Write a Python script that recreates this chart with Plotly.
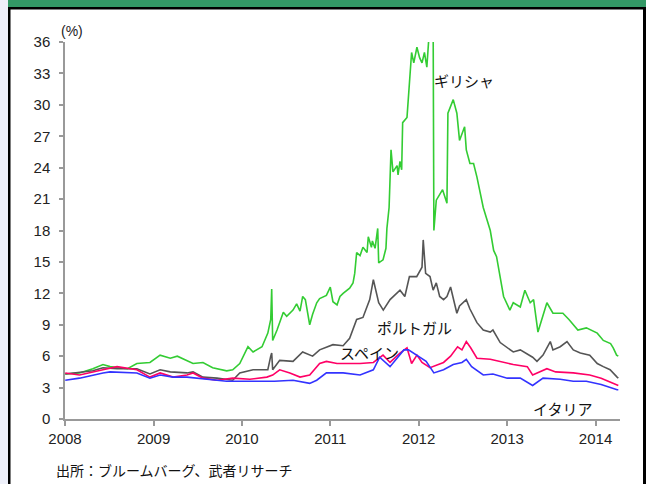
import plotly.graph_objects as go

# ---------------- data ----------------
greece_dates = ["2008-01-02","2008-03-01","2008-04-25","2008-06-06","2008-07-05","2008-08-03","2008-09-15",
 "2008-10-24","2008-12-17","2009-01-28","2009-03-11","2009-04-09","2009-05-19","2009-06-13","2009-07-24",
 "2009-08-10","2009-09-02","2009-10-30","2009-11-24","2009-12-23","2010-01-26","2010-02-16","2010-03-25",
 "2010-04-18","2010-04-30","2010-05-04","2010-05-08","2010-05-26","2010-06-21","2010-07-05","2010-07-31",
 "2010-08-15","2010-08-29","2010-09-09","2010-09-20","2010-10-08","2010-10-20","2010-11-06","2010-11-18",
 "2010-12-16","2011-01-01","2011-01-12","2011-01-29","2011-02-10","2011-02-23","2011-03-22","2011-04-05",
 "2011-04-12","2011-04-20","2011-05-04","2011-05-16","2011-06-02","2011-06-07","2011-06-20","2011-06-24",
 "2011-07-05","2011-07-16","2011-07-20","2011-08-07","2011-08-19","2011-08-23","2011-09-01","2011-09-09",
 "2011-09-17","2011-10-04","2011-10-08","2011-10-16","2011-10-23","2011-10-27","2011-11-14","2011-12-03",
 "2011-12-12","2011-12-25","2012-01-05","2012-01-15","2012-01-25","2012-02-04","2012-02-14","2012-03-01",
 "2012-03-04","2012-03-14","2012-04-09","2012-04-27","2012-05-01","2012-05-23","2012-06-07","2012-06-18",
 "2012-07-09","2012-07-16","2012-07-31","2012-08-15","2012-08-29","2012-09-24","2012-10-23","2012-11-06",
 "2012-11-18","2012-12-03","2012-12-17","2013-01-12","2013-01-26","2013-02-24","2013-03-15","2013-04-06",
 "2013-04-20","2013-05-08","2013-06-14","2013-07-09","2013-08-19","2013-09-13","2013-10-20","2013-11-24",
 "2014-01-08","2014-02-02","2014-03-04","2014-03-15","2014-03-29","2014-04-05"]
greece_vals = [4.3,4.4,4.8,5.2,5.0,4.9,4.8,5.3,5.4,6.1,5.8,6.0,5.6,5.3,5.4,5.2,4.9,4.6,4.7,5.3,6.9,6.4,6.9,
 8.2,9.5,12.4,7.5,8.5,10.2,9.8,10.4,11.0,10.3,11.7,11.4,9.0,10.0,11.1,11.5,11.8,12.6,11.2,10.9,11.7,12.0,
 12.5,13.0,13.9,15.9,15.6,16.4,15.9,17.4,16.4,17.0,16.3,18.2,14.9,15.2,16.3,18.2,20.2,25.7,23.6,24.2,23.3,
 24.6,23.8,28.3,28.8,35.0,34.0,35.5,34.5,34.0,35.0,33.6,37.0,38.0,18.0,20.9,21.9,20.6,29.2,30.5,29.2,26.6,
 27.9,25.7,24.4,24.4,23.1,20.2,18.0,16.1,15.5,13.6,11.7,10.4,11.1,10.7,12.3,11.1,11.4,8.3,11.1,10.1,10.1,
 9.5,8.5,8.7,8.2,7.5,7.2,6.8,6.1,6.0]

portugal_dates = ["2008-01-02","2008-04-25","2008-06-06","2008-08-03","2008-10-24","2008-12-17","2009-01-28",
 "2009-03-11","2009-05-19","2009-06-13","2009-07-24","2009-09-20","2009-11-24","2009-12-23","2010-02-16",
 "2010-03-17","2010-04-18","2010-04-30","2010-05-04","2010-05-08","2010-06-06","2010-07-31","2010-09-09",
 "2010-10-20","2010-11-18","2011-01-12","2011-02-23","2011-03-22","2011-04-20","2011-05-16","2011-06-13",
 "2011-06-28","2011-07-20","2011-08-08","2011-09-05","2011-10-16","2011-11-05","2011-11-24","2011-12-24",
 "2012-01-15","2012-01-20","2012-01-30","2012-02-17","2012-03-01","2012-03-14","2012-03-28","2012-04-13",
 "2012-04-27","2012-05-12","2012-06-07","2012-06-18","2012-07-16","2012-07-31","2012-08-29","2012-09-24",
 "2012-10-23","2012-11-03","2012-12-03","2013-01-01","2013-01-26","2013-02-24","2013-03-25","2013-04-16",
 "2013-05-04","2013-05-29","2013-06-28","2013-07-09","2013-08-08","2013-09-05","2013-10-01","2013-10-30",
 "2013-12-08","2014-01-08","2014-02-02","2014-03-02","2014-03-31","2014-04-05"]
portugal_vals = [4.3,4.6,4.9,4.8,4.8,4.3,4.7,4.5,4.4,4.5,4.0,3.9,3.7,4.4,4.7,4.7,4.7,6.0,6.3,4.7,5.6,5.5,
 6.4,6.0,6.6,7.1,7.0,7.7,9.5,9.7,11.4,13.3,11.1,10.4,11.4,12.3,11.7,13.6,13.6,14.5,17.1,13.9,13.6,12.3,
 13.0,11.7,11.4,11.7,12.6,10.1,10.8,11.4,10.5,9.2,8.5,8.3,8.5,7.3,6.8,6.4,6.6,6.2,5.9,5.5,6.1,7.4,6.6,
 6.9,7.4,6.6,6.3,6.1,5.3,5.0,4.7,4.0,3.9]

spain_dates = ["2008-01-02","2008-03-01","2008-06-06","2008-08-03","2008-10-24","2008-12-17","2009-01-28",
 "2009-03-23","2009-05-19","2009-06-13","2009-07-24","2009-09-20","2009-11-24","2010-02-03","2010-04-14",
 "2010-05-08","2010-06-06","2010-07-18","2010-08-29","2010-10-08","2010-11-18","2010-12-16","2011-01-29",
 "2011-03-10","2011-05-04","2011-06-28","2011-08-07","2011-09-05","2011-10-16","2011-11-14","2011-12-03",
 "2011-12-25","2012-01-15","2012-02-17","2012-04-13","2012-05-12","2012-06-10","2012-06-28","2012-07-16",
 "2012-08-03","2012-08-29","2012-10-23","2012-12-03","2013-01-26","2013-03-25","2013-04-16","2013-06-14",
 "2013-07-20","2013-10-01","2013-12-08","2014-01-24","2014-03-31","2014-04-05"]
spain_vals = [4.4,4.2,4.7,5.0,4.7,4.0,4.4,4.0,4.2,4.4,3.9,3.7,3.9,3.8,4.0,4.2,4.7,4.4,4.0,4.2,5.3,5.5,5.3,
 5.3,5.3,5.4,6.1,5.4,6.3,6.8,5.3,6.1,5.4,4.9,5.4,6.0,6.9,6.6,7.4,6.8,5.8,5.7,5.5,5.2,5.0,4.2,4.8,4.5,4.4,
 4.2,3.9,3.2,3.2]

italy_dates = ["2008-01-02","2008-03-01","2008-06-06","2008-07-05","2008-10-24","2008-12-17","2009-01-28",
 "2009-03-23","2009-05-19","2009-07-12","2009-09-20","2009-10-30","2010-01-05","2010-03-17","2010-05-15",
 "2010-07-31","2010-10-08","2010-11-06","2010-12-16","2011-02-23","2011-05-04","2011-06-28","2011-07-24",
 "2011-09-05","2011-10-16","2011-11-01","2011-11-20","2011-12-25","2012-02-01","2012-03-04","2012-04-13",
 "2012-05-23","2012-06-28","2012-07-16","2012-08-07","2012-09-24","2012-11-03","2013-01-01","2013-02-24",
 "2013-04-16","2013-05-29","2013-08-08","2013-10-01","2013-11-24","2014-01-24","2014-03-31","2014-04-05"]
italy_vals = [3.7,3.9,4.4,4.5,4.4,3.9,4.2,4.0,4.0,3.9,3.7,3.6,3.6,3.6,3.6,3.7,3.4,3.7,4.4,4.4,4.2,4.7,5.9,
 5.0,6.1,6.6,6.6,6.1,5.5,4.4,4.7,5.2,5.4,5.7,5.0,4.2,4.3,3.9,3.9,3.2,3.9,3.8,3.6,3.6,3.3,2.8,2.8]

x_tick_vals = ["2008-01-01","2009-01-01","2010-01-01","2011-01-01","2012-01-01","2013-01-01","2014-01-01"]
x_tick_text = ["2008","2009","2010","2011","2012","2013","2014"]
y_tick_vals = [0,3,6,9,12,15,18,21,24,27,30,33,36]

series_names = ["ギリシャ","ポルトガル","スペイン","イタリア"]
source_text = "出所：ブルームバーグ、武者リサーチ"
unit_text = "(%)"

# ---------------- figure ----------------
W, H = 646, 484
L, R, T, B = 65, 26, 42, 65
PW, PH = W - L - R, H - T - B

def px(xp):
    return (xp - L) / PW

def py(yp):
    return (H - B - yp) / PH

colors = ["#33CC33", "#555555", "#FF0066", "#3333FF"]
fig = go.Figure()
for d, v, c, n in zip([greece_dates, portugal_dates, spain_dates, italy_dates],
                      [greece_vals, portugal_vals, spain_vals, italy_vals], colors, series_names):
    fig.add_trace(go.Scatter(x=d, y=v, mode="lines", name=n,
                             line=dict(color=c, width=1.6), hoverinfo="x+y"))

jp = "Noto Sans CJK JP"
num_font = dict(family="Liberation Sans, Arial, sans-serif", size=15, color="#222222")

fig.update_layout(
    width=W, height=H, margin=dict(l=L, r=R, t=T, b=B, pad=0),
    paper_bgcolor="white", plot_bgcolor="white", showlegend=False,
    xaxis=dict(type="date", range=["2008-01-01", "2014-04-12"], tickvals=x_tick_vals, ticktext=x_tick_text,
               showgrid=False, zeroline=False, showline=True, linecolor="#999999", linewidth=1.5,
               ticks="outside", ticklen=5, tickcolor="#999999", tickwidth=1.5, tickfont=num_font),
    yaxis=dict(range=[0, 36], tickvals=y_tick_vals, showgrid=False, zeroline=False, showline=True,
               linecolor="#999999", linewidth=1.5, ticks="outside", ticklen=4, tickcolor="#999999",
               tickwidth=1.5, tickfont=num_font, ticklabelstandoff=6),
)

# frame decoration
shapes = [
    dict(type="rect", x0=px(0), x1=px(8), y0=py(0), y1=py(H), fillcolor="#EEF0FA", line_width=0),
    dict(type="rect", x0=px(8), x1=px(W), y0=py(0), y1=py(7), fillcolor="#339966", line_width=0),
    dict(type="rect", x0=px(8), x1=px(W), y0=py(7), y1=py(9.5), fillcolor="black", line_width=0),
    dict(type="rect", x0=px(8), x1=px(10.5), y0=py(7), y1=py(H), fillcolor="black", line_width=0),
    dict(type="rect", x0=px(643), x1=px(W), y0=py(7), y1=py(H), fillcolor="black", line_width=0),
]
for s in shapes:
    s.update(xref="paper", yref="paper", layer="above")
fig.update_layout(shapes=shapes)

label_font = dict(family=jp, size=15, color="#111111")
annos = [
    dict(x=px(59), y=py(31), text=unit_text, xanchor="left", yanchor="middle",
         font=dict(family="Liberation Sans, sans-serif", size=14, color="#222222")),
    dict(x=px(432), y=py(80), text=series_names[0], xanchor="left", yanchor="middle", font=label_font),
    dict(x=px(375), y=py(327), text=series_names[1], xanchor="left", yanchor="middle", font=label_font),
    dict(x=px(338), y=py(352), text=series_names[2], xanchor="left", yanchor="middle", font=label_font),
    dict(x=px(531), y=py(408), text=series_names[3], xanchor="left", yanchor="middle", font=label_font),
    dict(x=px(54), y=py(470), text=source_text, xanchor="left", yanchor="middle",
         font=dict(family=jp, size=14, color="#111111")),
]
for a in annos:
    a.update(xref="paper", yref="paper", showarrow=False)
fig.update_layout(annotations=annos)

fig.write_html("out.html")
